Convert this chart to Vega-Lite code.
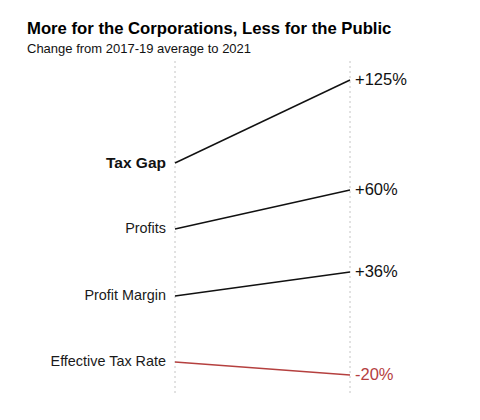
{
  "$schema": "https://vega.github.io/schema/vega-lite/v6.json",
  "autosize": "none",
  "width": 175,
  "height": 332,
  "padding": {"left": 175, "top": 61, "right": 130, "bottom": 27},
  "background": "white",
  "config": {"view": {"stroke": null}, "font": "Liberation Sans"},
  "title": {
    "text": "More for the Corporations, Less for the Public",
    "subtitle": "Change from 2017-19  average to 2021",
    "anchor": "start",
    "frame": "group",
    "dx": -148,
    "offset": 5,
    "font": "Liberation Sans",
    "fontSize": 16.7,
    "fontWeight": "bold",
    "color": "#000000",
    "subtitleFont": "Liberation Sans",
    "subtitleFontSize": 13,
    "subtitleColor": "#111111",
    "subtitlePadding": 5
  },
  "data": {
    "values": [
      {"metric": "Tax Gap", "change": "+125%", "pos_start": 102, "pos_end": 19, "kind": "up"},
      {"metric": "Profits", "change": "+60%", "pos_start": 168, "pos_end": 129, "kind": "up"},
      {"metric": "Profit Margin", "change": "+36%", "pos_start": 235, "pos_end": 211, "kind": "up"},
      {"metric": "Effective Tax Rate", "change": "-20%", "pos_start": 301, "pos_end": 314, "kind": "down"}
    ]
  },
  "layer": [
    {
      "data": {"values": [{"side": 0}, {"side": 1}]},
      "mark": {"type": "rule", "color": "#c4c4c4", "strokeDash": [2, 3], "strokeWidth": 1},
      "encoding": {
        "x": {"field": "side", "type": "quantitative", "scale": {"domain": [0, 1], "nice": false}, "axis": null}
      }
    },
    {
      "mark": {"type": "rule", "strokeWidth": 1.4},
      "encoding": {
        "x": {"datum": 0, "type": "quantitative", "axis": null},
        "x2": {"datum": 1},
        "y": {"field": "pos_start", "type": "quantitative", "scale": {"domain": [0, 332], "reverse": true, "nice": false, "zero": false}, "axis": null},
        "y2": {"field": "pos_end"},
        "color": {"field": "kind", "type": "nominal", "scale": {"domain": ["up", "down"], "range": ["#111111", "#b5403f"]}, "legend": null}
      }
    },
    {
      "transform": [{"filter": "datum.metric !== 'Tax Gap'"}],
      "mark": {"type": "text", "align": "right", "baseline": "middle", "dx": -9, "fontSize": 14.4, "color": "#1a1a1a"},
      "encoding": {
        "x": {"datum": 0, "type": "quantitative"},
        "y": {"field": "pos_start", "type": "quantitative"},
        "text": {"field": "metric"}
      }
    },
    {
      "transform": [{"filter": "datum.metric === 'Tax Gap'"}],
      "mark": {"type": "text", "align": "right", "baseline": "middle", "dx": -9, "fontSize": 15.5, "fontWeight": "bold", "color": "#111111"},
      "encoding": {
        "x": {"datum": 0, "type": "quantitative"},
        "y": {"field": "pos_start", "type": "quantitative"},
        "text": {"field": "metric"}
      }
    },
    {
      "mark": {"type": "text", "align": "left", "baseline": "middle", "dx": 5, "fontSize": 16.5},
      "encoding": {
        "x": {"datum": 1, "type": "quantitative"},
        "y": {"field": "pos_end", "type": "quantitative"},
        "text": {"field": "change"},
        "color": {"field": "kind", "type": "nominal", "scale": {"domain": ["up", "down"], "range": ["#1a1a1a", "#b5403f"]}, "legend": null}
      }
    }
  ]
}
